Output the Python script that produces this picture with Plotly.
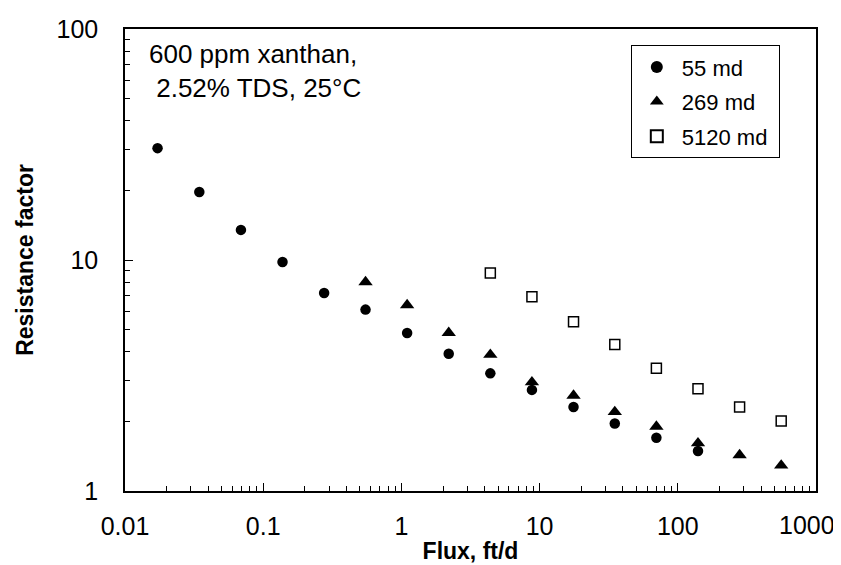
import plotly.graph_objects as go

flux_55 = [0.0172, 0.0345, 0.069, 0.138, 0.276, 0.55, 1.1, 2.2, 4.4, 8.8, 17.6, 35, 70, 140]
rf_55 = [30.5, 19.7, 13.5, 9.8, 7.2, 6.1, 4.83, 3.93, 3.23, 2.74, 2.31, 1.96, 1.70, 1.49]

flux_269 = [0.55, 1.1, 2.2, 4.4, 8.8, 17.6, 35, 70, 140, 280, 560]
rf_269 = [8.03, 6.38, 4.84, 3.89, 2.96, 2.59, 2.20, 1.90, 1.61, 1.43, 1.29]

flux_5120 = [4.4, 8.8, 17.6, 35, 70, 140, 280, 560]
rf_5120 = [8.79, 6.94, 5.41, 4.31, 3.40, 2.77, 2.31, 2.01]

names = ["55 md", "269 md", "5120 md"]
x_ticks = [0.01, 0.1, 1, 10, 100, 1000]
x_tick_text = ["0.01", "0.1", "1", "10", "100", "1000"]
y_ticks = [1, 10, 100]
y_tick_text = ["1", "10", "100"]

FONT = "Arial, Liberation Sans, sans-serif"
PAD = "&nbsp;"

fig = go.Figure()
fig.add_trace(go.Scatter(x=flux_55, y=rf_55, mode="markers", name=names[0] + PAD, legendgroup="a",
                         marker=dict(symbol="circle", size=10.5, color="black")))
fig.add_trace(go.Scatter(x=flux_269, y=rf_269, mode="markers", name=names[1] + PAD, legendgroup="b",
                         marker=dict(symbol="triangle-up", size=12.5, color="black")))
fig.add_trace(go.Scatter(x=flux_5120, y=rf_5120, mode="markers", name=names[2] + PAD, legendgroup="c",
                         marker=dict(symbol="square-open", size=10, color="black",
                                     line=dict(width=1.5, color="black"))))

axis_common = dict(
    type="log", showgrid=False, zeroline=False, showline=True, linecolor="black",
    linewidth=1.5, mirror=True, ticks="inside", ticklen=8, tickcolor="black",
    tickwidth=1, tickfont=dict(family=FONT, size=25, color="black"), automargin=False,
    minor=dict(ticks="inside", ticklen=5, tickcolor="black", tickwidth=1, dtick="D1", showgrid=False),
)

# the last x label is drawn as an annotation nudged left (as in the reference) so it stays inside the canvas
x_labels_shown = x_tick_text[:-1] + [""]

fig.update_xaxes(range=[-2, 3], tickvals=x_ticks, ticktext=x_labels_shown, ticklabelstandoff=12,
                 title=dict(text="<b>Flux, ft/d</b>", font=dict(family=FONT, size=23, color="black"), standoff=4),
                 **axis_common)
fig.update_yaxes(range=[0, 2], tickvals=y_ticks, ticktext=y_tick_text, ticklabelstandoff=20,
                 title=dict(text="<b>Resistance factor</b>", font=dict(family=FONT, size=23, color="black"), standoff=16),
                 **axis_common)

fig.add_annotation(xref="x", yref="paper", x=3, y=-0.073, xanchor="center", yanchor="middle",
                   xshift=-9, text=x_tick_text[-1], showarrow=False,
                   font=dict(family=FONT, size=25, color="black"))

fig.add_annotation(xref="paper", yref="paper", x=0.032, y=0.910, xanchor="left", yanchor="middle",
                   text="600 ppm xanthan,<br> 2.52% TDS, 25°C", showarrow=False, align="left",
                   font=dict(family=FONT, size=26, color="black"))

fig.update_layout(
    width=841, height=565,
    margin=dict(l=117, r=33, t=21, b=82),
    paper_bgcolor="white", plot_bgcolor="white",
    showlegend=True,
    legend=dict(x=0.732, y=0.965, xanchor="left", yanchor="top",
                bordercolor="black", borderwidth=1, bgcolor="white",
                font=dict(family=FONT, size=22, color="black"), itemwidth=40,
                itemsizing="constant", traceorder="grouped", tracegroupgap=3),
)

fig.write_html("out.html")
